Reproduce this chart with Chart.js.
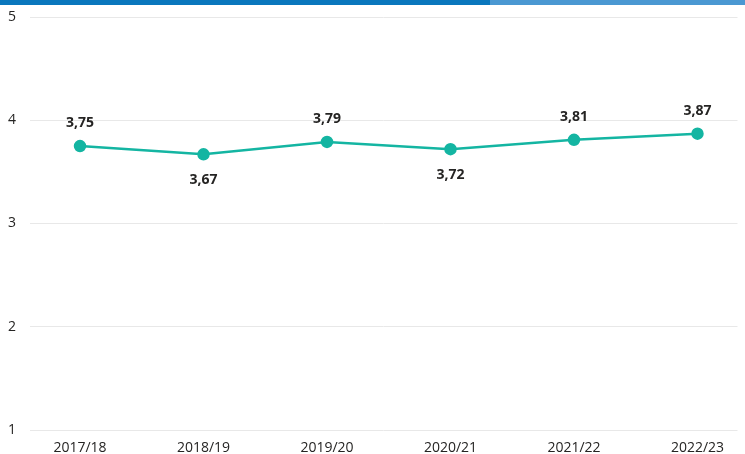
<!DOCTYPE html>
<html>
<head>
<meta charset="utf-8">
<script src="https://cdn.jsdelivr.net/npm/chart.js@4"></script>
<style>
  html, body { margin: 0; padding: 0; background: #fff; overflow: hidden; }
  #barra { position: absolute; left: 0; top: 0; width: 745px; height: 5px; background: #4a98d2; }
  #barra div { width: 490px; height: 100%; background: #0a77bd; }
  #wrap { position: absolute; left: 0; top: 0; width: 745px; height: 454px; }
</style>
</head>
<body>
<div id="wrap"><canvas id="grafico"></canvas></div>
<div id="barra"><div></div></div>
<script>
const periodos = ['2017/18', '2018/19', '2019/20', '2020/21', '2021/22', '2022/23'];
const valores = [3.75, 3.67, 3.79, 3.72, 3.81, 3.87];
const etiquetaAbajo = [false, true, false, true, false, false];
const ticksY = [1, 2, 3, 4, 5];

const fmt = v => v.toFixed(2).replace('.', ',');

// etiquetas de valor encima/debajo de cada punto
const etiquetasPlugin = {
    id: 'etiquetas',
    afterDatasetsDraw(chart) {
        const ctx = chart.ctx;
        const meta = chart.getDatasetMeta(0);
        ctx.save();
        ctx.font = 'bold 14px "Open Sans", sans-serif';
        ctx.fillStyle = '#252423';
        ctx.textAlign = 'center';
        ctx.textBaseline = 'middle';
        meta.data.forEach((pt, i) => {
            const dy = etiquetaAbajo[i] ? 26 : -23;
            ctx.fillText(fmt(valores[i]), pt.x, pt.y + dy);
        });
        ctx.restore();
    }
};

// tamaños fijos de los ejes, sin relleno extra
const fijar = (w, h) => axis => {
    if (w) axis.width = w;
    if (h) axis.height = h;
    axis.paddingLeft = axis.paddingRight = axis.paddingTop = axis.paddingBottom = 0;
};

const ctx = document.getElementById('grafico').getContext('2d');
new Chart(ctx, {
    type: 'line',
    data: {
        datasets: [{
            data: valores.map((v, i) => ({ x: i, y: v })),
            borderColor: '#14b5a2',
            backgroundColor: '#14b5a2',
            borderWidth: 2.5,
            pointRadius: 5,
            pointHoverRadius: 5,
            tension: 0
        }]
    },
    options: {
        responsive: true, maintainAspectRatio: false, animation: false,
        layout: { padding: { top: 17, right: 0, left: 8, bottom: 0 } },
        plugins: { legend: { display: false }, tooltip: { enabled: false } },
        scales: {
            x: {
                type: 'linear', min: -0.405, max: 5.324,
                afterBuildTicks: axis => { axis.ticks = periodos.map((p, i) => ({ value: i })); },
                afterFit: fijar(0, 24),
                grid: { display: false, drawTicks: false },
                border: { display: false },
                ticks: {
                    callback: v => periodos[v] || '',
                    color: '#252423', font: { family: '"Open Sans", sans-serif', size: 14 },
                    maxRotation: 0, padding: 10
                }
            },
            y: {
                min: 1, max: 5,
                afterBuildTicks: axis => { axis.ticks = ticksY.map(v => ({ value: v })); },
                afterFit: fijar(22, 0),
                grid: { color: '#e8e8e8', lineWidth: 1, drawTicks: false },
                border: { display: false },
                ticks: {
                    color: '#252423', font: { family: '"Open Sans", sans-serif', size: 14 },
                    padding: 8, crossAlign: 'far'
                }
            }
        }
    },
    plugins: [etiquetasPlugin]
});
</script>
</body>
</html>
